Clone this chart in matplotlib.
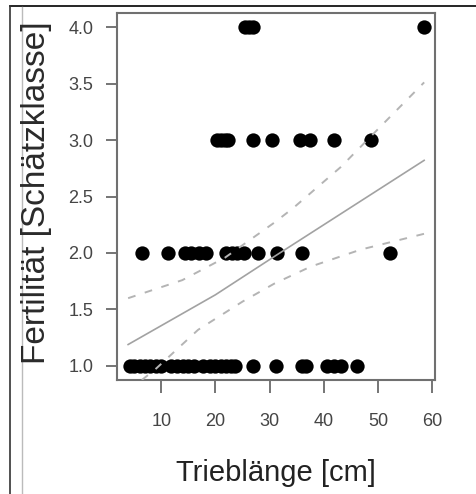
"""Fertilität vs. Trieblänge — Streudiagramm mit Regressionsgerade und Konfidenzband"""

import matplotlib
matplotlib.use('Agg')
import matplotlib.pyplot as plt
from matplotlib.lines import Line2D

plt.rcParams['font.family'] = ['Liberation Sans', 'DejaVu Sans']

# ========== Daten ==========
x_k1 = [4.2, 5.0, 6.0, 7.0, 8.0, 9.0, 10.0, 11.8, 13.0, 14.0, 15.0, 16.0,
        17.8, 19.0, 20.0, 21.0, 22.0, 22.8, 23.6,
        26.9, 31.1, 35.9, 36.8, 40.5, 41.8, 43.1, 46.1]
x_k2 = [6.4, 11.3, 14.3, 15.5, 17.0, 18.2, 22.0, 23.0, 24.0, 25.2,
        27.9, 31.3, 35.9, 52.2]
x_k3 = [20.3, 21.0, 21.7, 22.4, 26.9, 30.4, 35.6, 37.5, 41.9, 48.7]
x_k4 = [25.5, 26.2, 27.0, 58.5]

# Regressionsgerade
fit_x = [3.9, 20.0, 30.9, 58.5]
fit_y = [1.19, 1.63, 1.97, 2.82]

# Konfidenzband (gestrichelt)
upper_x = [3.9, 13.9, 21.8, 30.9, 34.4, 43.1, 51.7, 58.5]
upper_y = [1.60, 1.76, 1.96, 2.27, 2.40, 2.76, 3.18, 3.51]
lower_x = [3.9, 8.9, 16.8, 25.0, 30.9, 37.6, 46.8, 58.5]
lower_y = [0.78, 0.97, 1.32, 1.57, 1.73, 1.88, 2.03, 2.17]

x_ticks = [10, 20, 30, 40, 50, 60]
y_ticks = [1.0, 1.5, 2.0, 2.5, 3.0, 3.5, 4.0]

# ========== Abbildung ==========
fig = plt.figure(figsize=(4.77, 4.94), dpi=100)
fig.patch.set_facecolor('white')
ax = fig.add_axes([117 / 477, 1 - 380 / 494, 318 / 477, 367 / 494])

for xs, yv in [(x_k1, 1.0), (x_k2, 2.0), (x_k3, 3.0), (x_k4, 4.0)]:
    ax.plot(xs, [yv] * len(xs), 'o', color='black', markersize=10.3,
            markeredgewidth=0, zorder=2)

ax.plot(fit_x, fit_y, color='#a2a2a2', lw=1.2, zorder=3)
ax.plot(upper_x, upper_y, color='#b4b4b4', lw=1.4, ls=(0, (4, 5)), zorder=3)
ax.plot(lower_x, lower_y, color='#b4b4b4', lw=1.4, ls=(0, (4, 5)), zorder=3)

ax.set_xlim(1.85, 60.5)
ax.set_ylim(0.876, 4.124)
ax.set_xticks(x_ticks)
ax.set_yticks(y_ticks)
ax.set_yticklabels([f'{v:.1f}' for v in y_ticks])

for sp in ax.spines.values():
    sp.set_color('#707070')
    sp.set_linewidth(1.5)

ax.tick_params(axis='both', direction='out', color='#6a6a6a', width=1.3,
               labelcolor='#454545', labelsize=13)
ax.tick_params(axis='y', length=8, pad=9)
ax.tick_params(axis='x', length=9, pad=15)

# Achsentitel
fig.text(37 / 477, 1 - 193 / 494, 'Fertilität [Schätzklasse]', rotation=90,
         ha='center', va='center', fontsize=24, color='#2a2a2a')
fig.text(276 / 477, 1 - 473 / 494, 'Trieblänge [cm]',
         ha='center', va='center', fontsize=21, color='#222222')

# Rahmenlinien des Screenshots
fig.add_artist(Line2D([10 / 477, 1], [1 - 6.5 / 494] * 2, color='black', lw=1.2))
fig.add_artist(Line2D([10 / 477] * 2, [0, 1 - 6.5 / 494], color='#333333', lw=1.2))
fig.add_artist(Line2D([22 / 477] * 2, [0, 1 - 7 / 494], color='#bbbbbb', lw=1.0))

fig.savefig('out.png', dpi=100)
